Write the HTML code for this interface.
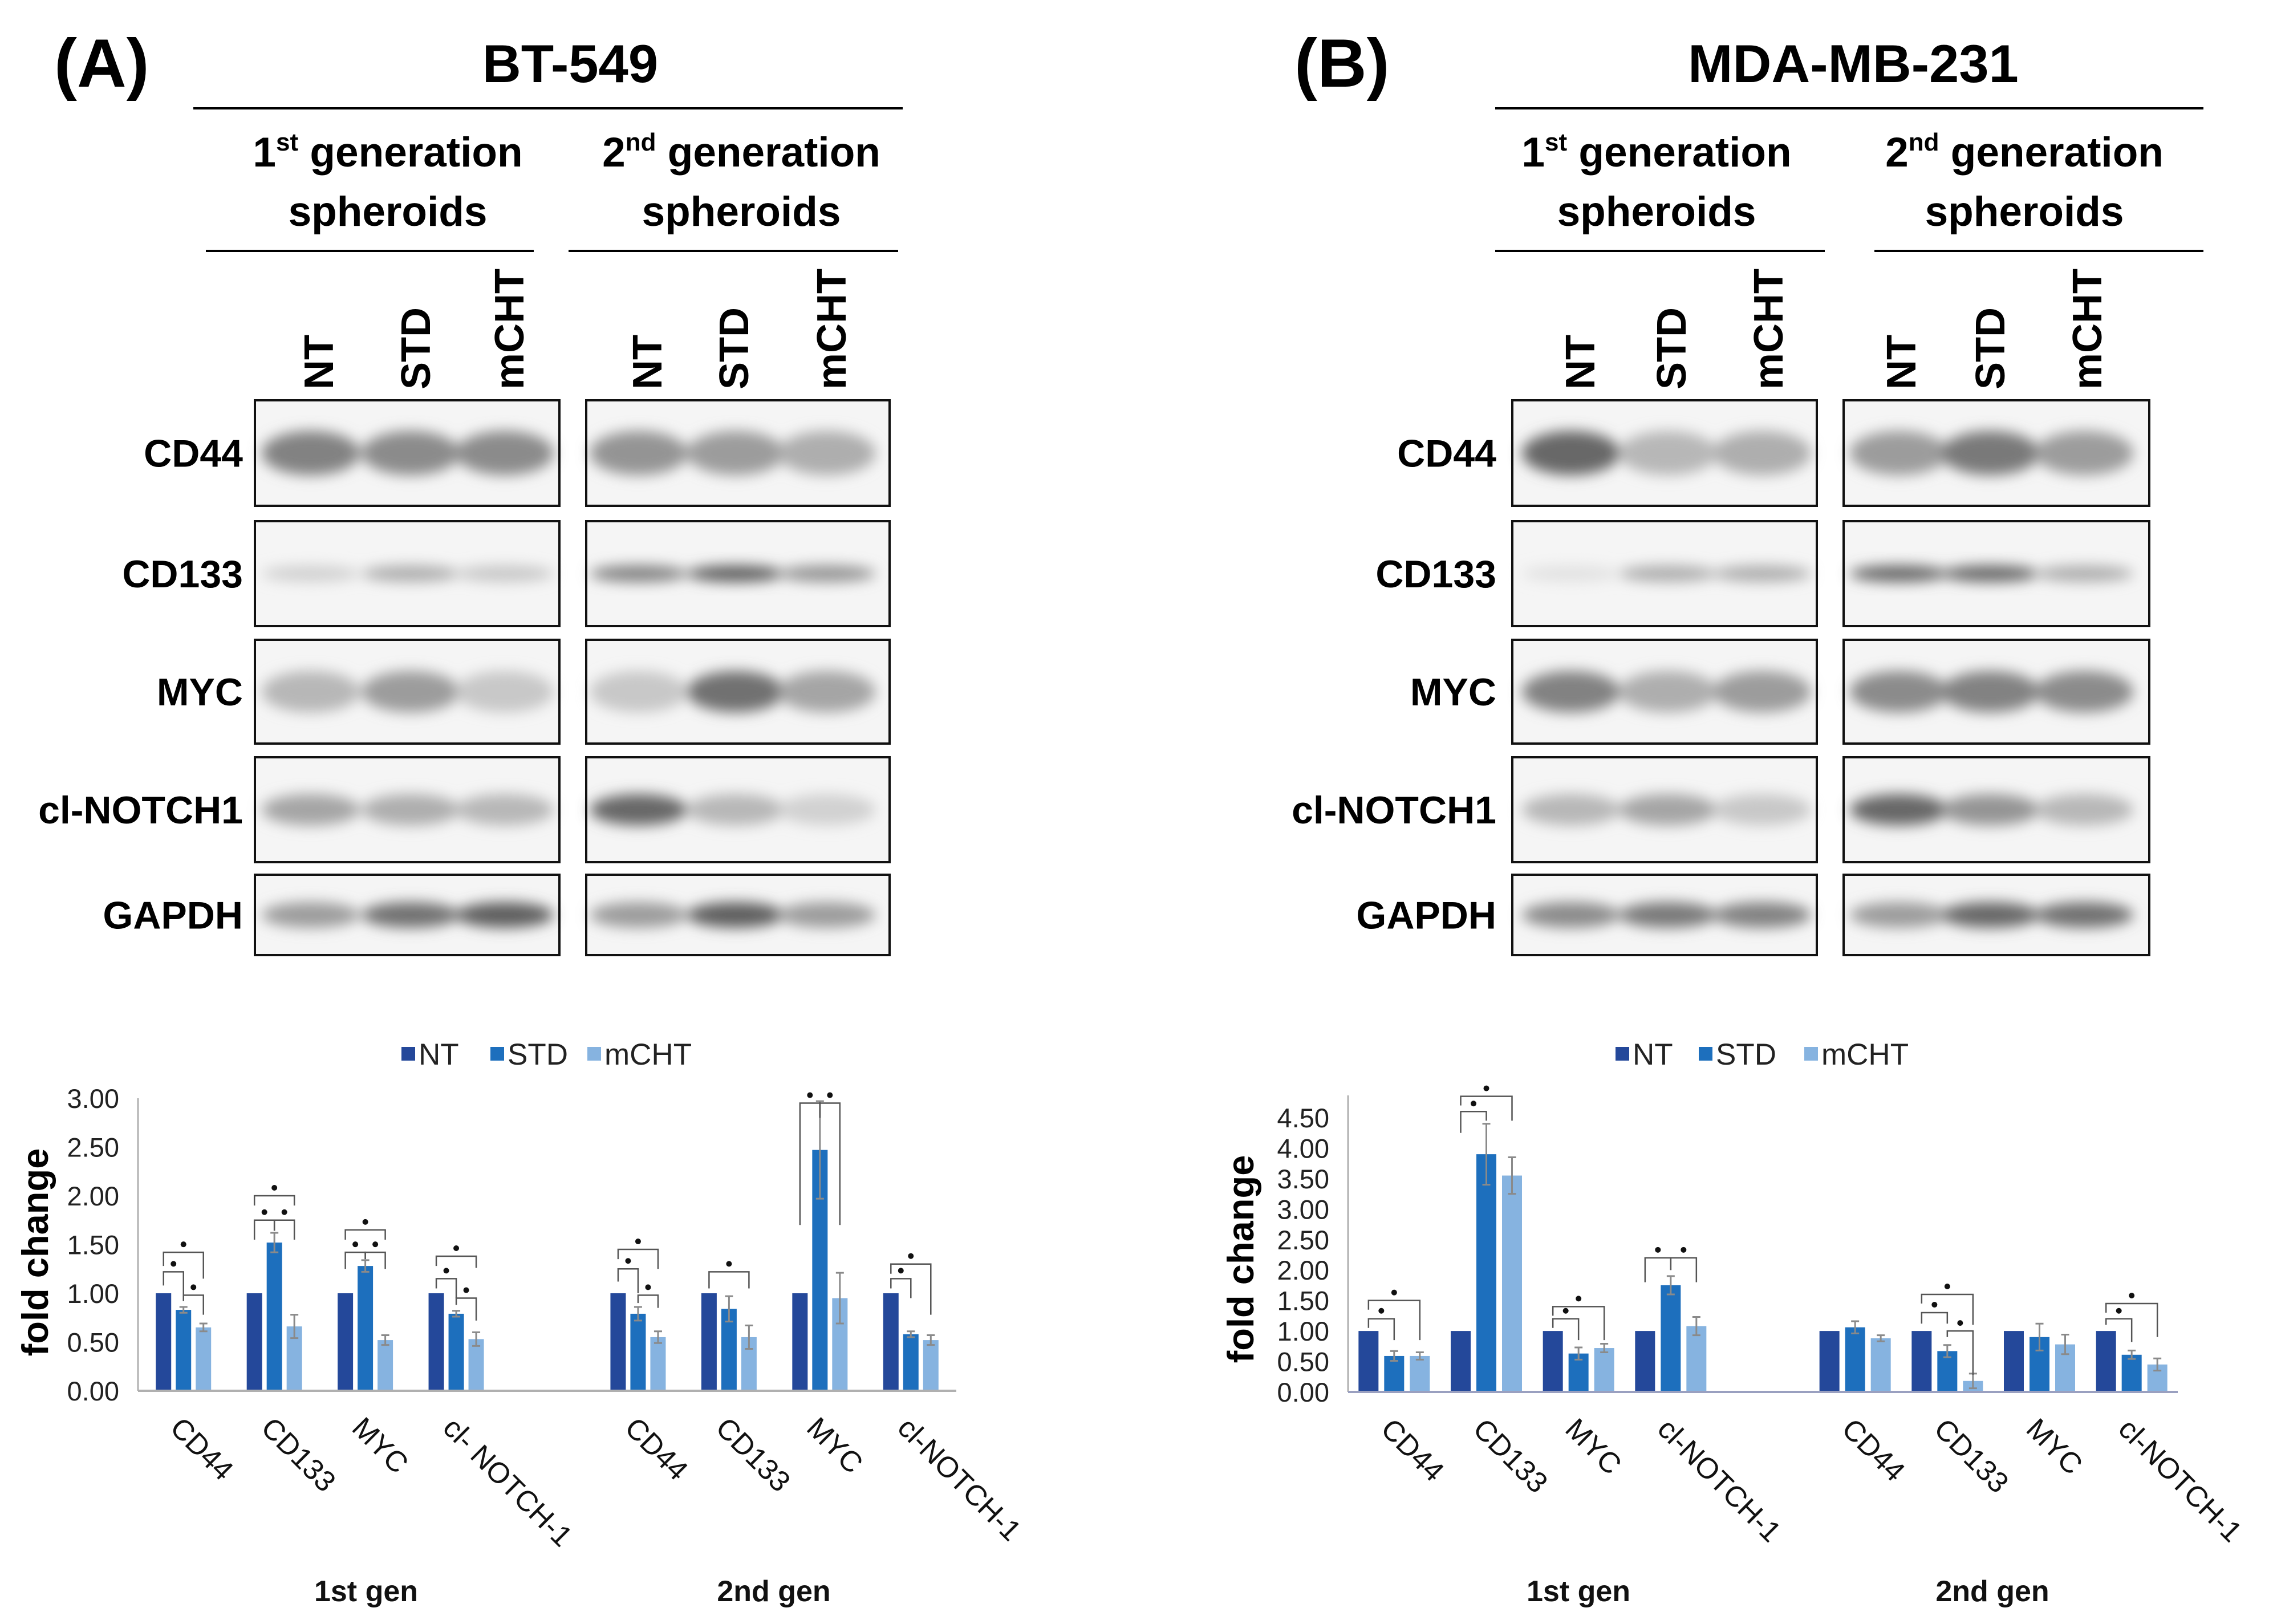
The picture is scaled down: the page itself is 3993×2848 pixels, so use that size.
<!DOCTYPE html>
<html><head><meta charset="utf-8"><style>
html,body{margin:0;padding:0;background:#fff;}
svg{display:block;font-family:"Liberation Sans",Arial,sans-serif;}
</style></head><body>
<svg id="fig" xmlns="http://www.w3.org/2000/svg" width="3993" height="2848" viewBox="0 0 3993 2848">
<defs>
<filter id="blur" x="-20%" y="-80%" width="140%" height="260%"><feGaussianBlur stdDeviation="12"/></filter>
</defs>
<rect width="3993" height="2848" fill="#fff"/>
<g id="blots" font-weight="bold"></g>
<g id="chartA"></g>
<g id="chartB"></g>
</svg>
<script>
// ---------- Chart A data (BT-549) ----------
const catsA = ["CD44","CD133","MYC","cl- NOTCH-1","","CD44","CD133","MYC","cl-NOTCH-1"];
const ntA   = [1,1,1,1,null,1,1,1,1];
const stdA  = [0.83,1.52,1.28,0.79,null,0.79,0.84,2.47,0.58];
const mchtA = [0.65,0.66,0.52,0.53,null,0.55,0.55,0.95,0.52];
const errStdA  = [0.03,0.10,0.06,0.03,null,0.07,0.13,0.50,0.03];
const errMchtA = [0.04,0.12,0.05,0.07,null,0.06,0.12,0.26,0.05];
const ticksA = ["0.00","0.50","1.00","1.50","2.00","2.50","3.00"];
// bracket: [category, series1, series2, level, leftEnd, rightEnd]
const bracketsA = [
 [0,0,1,1.22,1.08,0.92],[0,0,2,1.42,1.28,1.15],[0,1,2,0.98,0.92,0.78],
 [1,0,1,1.75,1.55,1.64],[1,1,2,1.75,1.64,1.55],[1,0,2,2.00,1.90,1.90],
 [2,0,1,1.42,1.25,1.35],[2,1,2,1.42,1.35,1.25],[2,0,2,1.65,1.55,1.55],
 [3,0,1,1.15,1.05,0.95],[3,1,2,0.95,0.88,0.72],[3,0,2,1.38,1.28,1.26],
 [5,0,1,1.25,1.12,1.0],[5,1,2,0.98,0.90,0.85],[5,0,2,1.45,1.35,1.25],
 [6,0,2,1.22,1.05,1.05],
 [7,0,1,2.95,1.70,2.80],[7,1,2,2.95,2.80,1.70],
 [8,0,1,1.15,1.05,0.95],[8,0,2,1.30,1.20,0.78]
];
// ---------- Chart B data (MDA-MB-231) ----------
const catsB = ["CD44","CD133","MYC","cl-NOTCH-1","","CD44","CD133","MYC","cl-NOTCH-1"];
const ntB   = [1,1,1,1,null,1,1,1,1];
const stdB  = [0.59,3.90,0.63,1.75,null,1.06,0.67,0.90,0.61];
const mchtB = [0.59,3.55,0.72,1.08,null,0.88,0.18,0.78,0.45];
const errStdB  = [0.08,0.50,0.10,0.15,null,0.10,0.10,0.22,0.07];
const errMchtB = [0.06,0.30,0.07,0.15,null,0.05,0.12,0.16,0.10];
const ticksB = ["0.00","0.50","1.00","1.50","2.00","2.50","3.00","3.50","4.00","4.50"];
const bracketsB = [
 [0,0,1,1.20,1.05,0.85],[0,0,2,1.50,1.35,0.85],
 [1,0,1,4.60,4.25,4.45],[1,0,2,4.85,4.70,4.45],
 [2,0,1,1.20,1.05,0.85],[2,0,2,1.40,1.25,0.85],
 [3,0,1,2.20,1.80,2.00],[3,1,2,2.20,2.00,1.80],
 [6,0,1,1.30,1.12,1.12],[6,1,2,1.00,0.90,0.28],[6,0,2,1.60,1.45,1.10],
 [8,0,1,1.20,1.10,0.82],[8,0,2,1.45,1.30,0.90]
];
const colors = ["#24489a","#1d6fbd","#86b3e0"];
const seriesNames = ["NT","STD","mCHT"];
const NS = "http://www.w3.org/2000/svg";
function mk(parent, tag, attrs, text){
  const e = document.createElementNS(NS, tag);
  for (const k in attrs) e.setAttribute(k, attrs[k]);
  if (text !== undefined) e.textContent = text;
  parent.appendChild(e);
  return e;
}

function drawChart(g, cfg){
  const {x0,x1,y0,yTop,ymax,cats,series,errs,ticks,brackets,pitch,bw,legendX,legendY,titleX,titleY,gen1X,gen2X,genY,axisColor,yAxisTop} = cfg;
  const slot = (x1-x0)/cats.length;
  const xs = i => x0 + slot*(i+0.5);
  const ys = v => y0 - (y0-yTop)*v/ymax;
  series.forEach((s,si)=>{
    const r = mk(g,'rect',{x:legendX[si],y:legendY-12,width:24,height:24,fill:colors[si]});
    
    
    const t = mk(g,'text',{x:legendX[si]+30,y:legendY+19,'font-size':53,fill:'#222'},seriesNames[si]);
    
    
  });
  const ya = mk(g,'line',{x1:x0,y1:yAxisTop,x2:x0,y2:y0,stroke:'#b0b0b0','stroke-width':3});
  
  
  ticks.forEach(tk=>{
    const t = mk(g,'text',{x:x0-33,y:ys(parseFloat(tk))+17,'font-size':47,'text-anchor':'end',fill:'#222'},tk);
    
    
  });
  cats.forEach((c,ci)=>{
    if (series[0][ci]===null) return;
    series.forEach((s,si)=>{
      const cx = xs(ci)+(si-1)*pitch;
      const v = s[ci];
      const b = mk(g,'rect',{x:cx-bw/2,y:ys(v),width:bw,height:y0-ys(v),fill:colors[si]});
      
      
      if (si>0 && errs[si-1][ci]){
        const e = errs[si-1][ci];
        const eb = mk(g,'path',{d:`M${cx},${ys(v+e)}V${ys(v-e)}M${cx-7},${ys(v+e)}H${cx+7}M${cx-7},${ys(v-e)}H${cx+7}`,stroke:'#8a8a8a','stroke-width':3,fill:'none'});
        
        
      }
    });
    const lx = xs(ci)-26, ly = y0+68;
    const lab = mk(g,'text',{x:lx,y:ly,'font-size':51,fill:'#111',transform:`rotate(45 ${lx} ${ly})`},c);
    
    
  });
  const xa = mk(g,'line',{x1:x0,y1:y0,x2:x1,y2:y0,stroke:axisColor,'stroke-width':4});
  
  
  brackets.forEach(br=>{
    const [ci,s1,s2,lv,le,re] = br;
    const xa1 = xs(ci)+(s1-1)*pitch, xa2 = xs(ci)+(s2-1)*pitch;
    const p = mk(g,'path',{d:`M${xa1},${ys(le)}V${ys(lv)}H${xa2}V${ys(re)}`,stroke:'#555','stroke-width':2.5,fill:'none'});
    
    
    const d = mk(g,'circle',{cx:(xa1+xa2)/2,cy:ys(lv)-14,r:5,fill:'#111'});
    
    
  });
  const yt = mk(g,'text',{x:titleX,y:titleY,'font-size':65,'font-weight':'bold','text-anchor':'middle',fill:'#000',transform:`rotate(-90 ${titleX} ${titleY})`},'fold change');
  
  
  const g1 = mk(g,'text',{x:gen1X,y:genY,'font-size':52,'font-weight':'bold','text-anchor':'middle',fill:'#111'},'1st gen');
  
  
  const g2 = mk(g,'text',{x:gen2X,y:genY,'font-size':52,'font-weight':'bold','text-anchor':'middle',fill:'#111'},'2nd gen');
  
  
}

drawChart(document.getElementById('chartA'),{
  x0:242,x1:1677,y0:2439,yTop:1926,ymax:3,cats:catsA,series:[ntA,stdA,mchtA],errs:[errStdA,errMchtA],
  ticks:ticksA,brackets:bracketsA,pitch:35,bw:27,legendX:[704,860,1030],legendY:1848,
  titleX:84,titleY:2196,gen1X:642,gen2X:1357,genY:2808,axisColor:'#b0b0b0',yAxisTop:1926
});
drawChart(document.getElementById('chartB'),{
  x0:2364,x1:3819,y0:2441,yTop:1960,ymax:4.5,cats:catsB,series:[ntB,stdB,mchtB],errs:[errStdB,errMchtB],
  ticks:ticksB,brackets:bracketsB,pitch:45,bw:35,legendX:[2833,2979,3164],legendY:1848,
  titleX:2198,titleY:2208,gen1X:2768,gen2X:3494,genY:2808,axisColor:'#9aa0c0',yAxisTop:1921
});

// ---------- Western blot panels ----------
const rowNames = ["CD44","CD133","MYC","cl-NOTCH1","GAPDH"];
const rowTops = [702,914,1122,1328,1534];
const rowBots = [887,1098,1304,1512,1675];
const bandThick = [0.42,0.16,0.40,0.30,0.32];
const blotA1 = [[.6,.55,.55],[.15,.35,.2],[.3,.45,.2],[.4,.35,.3],[.45,.7,.8]];
const blotA2 = [[.5,.45,.35],[.6,.8,.5],[.2,.7,.4],[.75,.3,.15],[.45,.8,.45]];
const blotB1 = [[.75,.3,.35],[.05,.35,.35],[.6,.35,.45],[.3,.4,.2],[.55,.65,.6]];
const blotB2 = [[.45,.65,.45],[.75,.75,.35],[.55,.6,.55],[.75,.5,.3],[.45,.75,.7]];
const bl = document.getElementById('blots');
function txt(x,y,size,s,attrs,name){
  const t = mk(bl,'text',Object.assign({x:x,y:y,'font-size':size,fill:'#000'},attrs||{}),s);
  
  
  return t;
}
function header(px, label, title, titleX, lineX1, lineX2, gen1X, gen2X, u1, u2, lanes, labelRight){
  txt(px,152,120,label,{},'panel-label');
  txt(titleX,144,94,title,{'text-anchor':'middle'},'cell-line-title');
  const l = mk(bl,'line',{x1:lineX1,y1:190,x2:lineX2,y2:190,stroke:'#000','stroke-width':4});
  
  
  [[gen1X,'st',u1,'first'],[gen2X,'nd',u2,'second']].forEach(([gx,sup,u,nm],k)=>{
    const t = mk(bl,'text',{x:gx,y:292,'font-size':73,'text-anchor':'middle',fill:'#000'});
    
    
    mk(t,'tspan',{},String(k+1));
    mk(t,'tspan',{'font-size':44,dy:-28},sup);
    mk(t,'tspan',{dy:28},(k?'  ':' ')+'generation');
    txt(gx,396,73,'spheroids',{'text-anchor':'middle'},'spheroids-label');
    const ul = mk(bl,'line',{x1:u[0],y1:440,x2:u[1],y2:440,stroke:'#000','stroke-width':4});
    
    
  });
  const laneNames = ["NT","STD","mCHT","NT","STD","mCHT"];
  lanes.forEach((lx,i)=>{
    const x = lx+26, y = 683;
    txt(x,y,72,laneNames[i],{transform:`rotate(-90 ${x} ${y})`},'lane-label');
  });
  rowNames.forEach((r,i)=>{
    txt(labelRight,(rowTops[i]+rowBots[i])/2+24,68,r,{'text-anchor':'end'},'row-label-'+r.toLowerCase());
  });
}
function box(x1,x2,data,lanesX){
  rowNames.forEach((r,i)=>{
    const t=rowTops[i], b=rowBots[i], h=b-t, cy=(t+b)/2;
    const g = mk(bl,'g',{});
    
    
    mk(g,'rect',{x:x1,y:t,width:x2-x1,height:h,fill:'#f5f5f5'});
    const bands = mk(g,'g',{filter:'url(#blur)'});
    data[i].forEach((d,li)=>{
      const c = Math.round(235-175*d);
      mk(bands,'ellipse',{cx:lanesX[li],cy:cy,rx:(x2-x1)/6.2,ry:h*bandThick[i]/2,fill:`rgb(${c},${c},${c})`});
    });
    mk(g,'rect',{x:x1,y:t,width:x2-x1,height:h,fill:'none',stroke:'#111','stroke-width':4});
  });
}
header(95,'(A)','BT-549',1000,339,1583,680,1300,[361,936],[997,1575],[558,728,892,1134,1286,1457],426);
box(447,981,blotA1,[545,720,885]);
box(1028,1560,blotA2,[1120,1290,1450]);
header(2270,'(B)','MDA-MB-231',3250,2622,3864,2905,3550,[2622,3200],[3287,3864],[2770,2930,3100,3333,3489,3659],2624);
box(2652,3186,blotB1,[2755,2925,3090]);
box(3233,3769,blotB2,[3330,3490,3655]);
</script>
</body></html>
